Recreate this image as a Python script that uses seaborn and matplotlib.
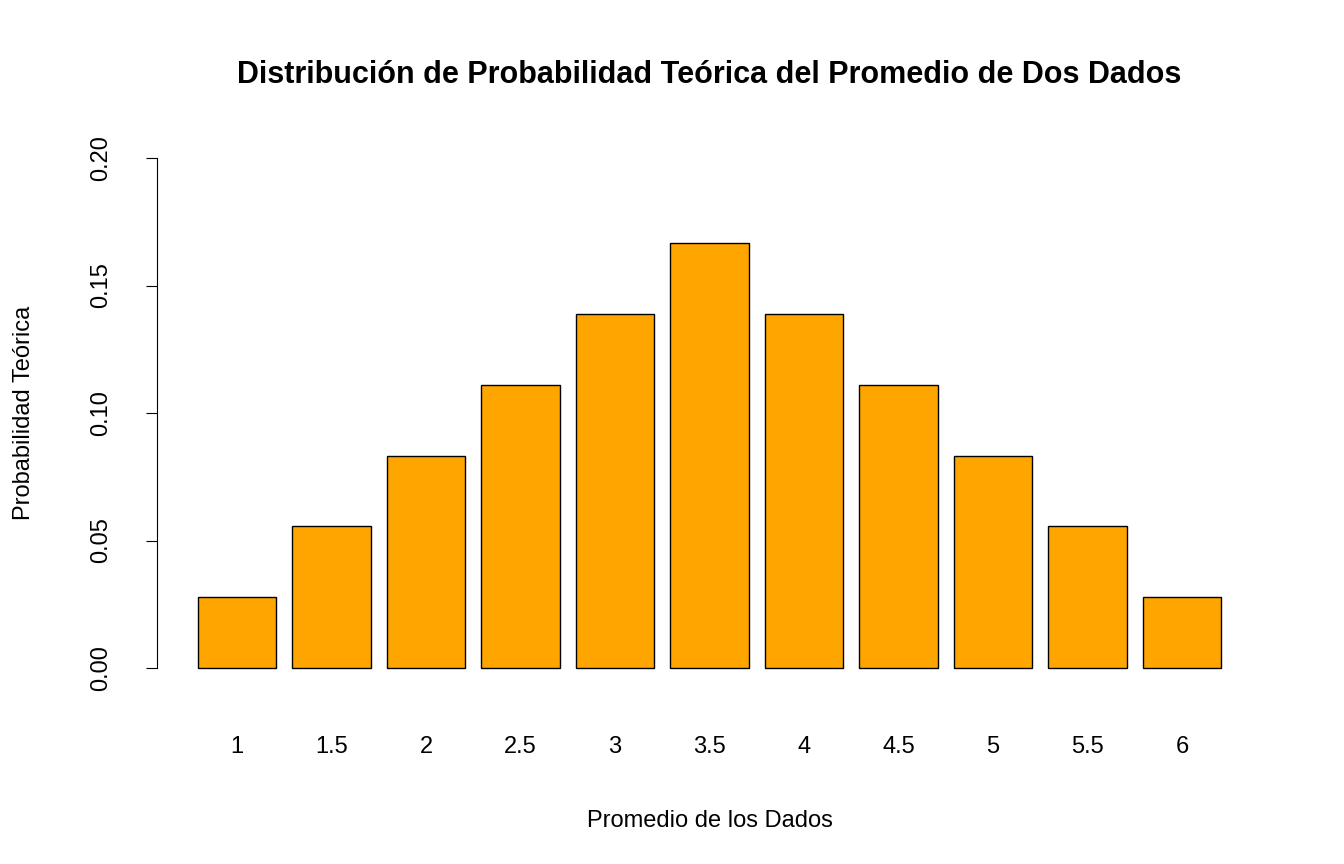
import numpy as np
import pandas as pd
import matplotlib
matplotlib.use("Agg")
import matplotlib.pyplot as plt
import seaborn as sns

promedios = ["1", "1.5", "2", "2.5", "3", "3.5", "4", "4.5", "5", "5.5", "6"]
conteos = [1, 2, 3, 4, 5, 6, 5, 4, 3, 2, 1]
probabilidad = [c / 36 for c in conteos]

df = pd.DataFrame({"promedio": promedios, "prob": probabilidad})

sns.set_style("white")
plt.rcParams["font.family"] = ["Liberation Sans", "DejaVu Sans"]
plt.rcParams["text.color"] = "black"
plt.rcParams["axes.labelcolor"] = "black"
plt.rcParams["xtick.color"] = "black"
plt.rcParams["ytick.color"] = "black"

fig = plt.figure(figsize=(13.44, 8.64), dpi=100)
ax = fig.add_axes([157 / 1344, 0.2032, (1262 - 157) / 1344, 0.6375])

sns.barplot(data=df, x="promedio", y="prob", color="orange", saturation=1,
            width=0.835, edgecolor="black", linewidth=1, ax=ax)

ax.set_xlim(-0.847, 10.847)
ax.set_ylim(-0.008, 0.208)
ax.set_yticks([0, 0.05, 0.10, 0.15, 0.20])
ax.set_yticklabels(["0.00", "0.05", "0.10", "0.15", "0.20"], rotation=90, va="center")
for s in ["top", "right", "bottom"]:
    ax.spines[s].set_visible(False)
ax.spines["left"].set_bounds(0, 0.2)
ax.spines["left"].set_color("black")
ax.tick_params(axis="y", length=8, color="black", labelsize=17, pad=24, left=True)
ax.tick_params(axis="x", length=0, labelsize=17, pad=34)

ax.set_xlabel("Promedio de los Dados", fontsize=17, labelpad=38)
ax.set_ylabel("Probabilidad Teórica", fontsize=17, labelpad=40)
fig.suptitle("Distribución de Probabilidad Teórica del Promedio de Dos Dados",
             fontsize=22, fontweight="bold", x=0.528, y=0.93)

fig.savefig("out.png", dpi=100)
